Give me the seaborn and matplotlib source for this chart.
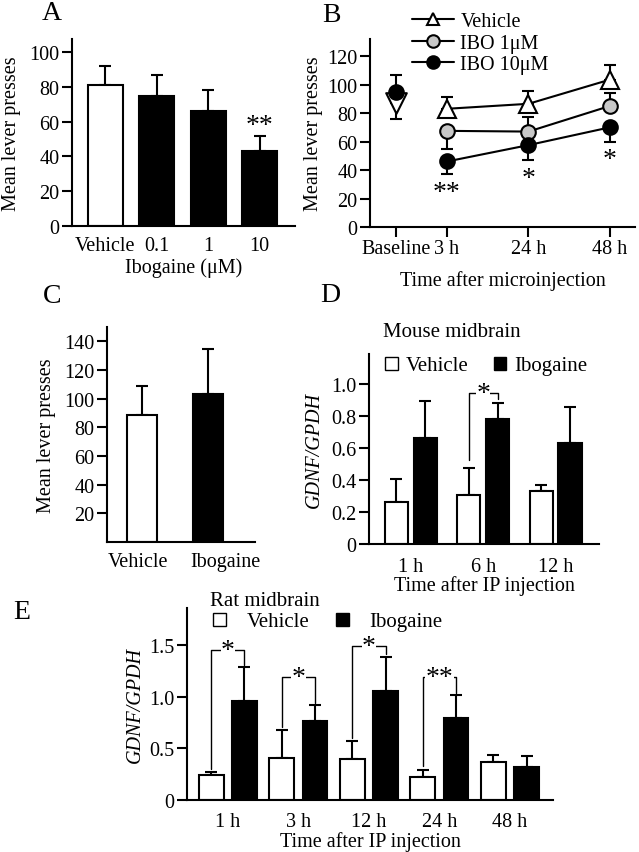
import numpy as np
import pandas as pd
import matplotlib.pyplot as plt
from matplotlib.lines import Line2D
from matplotlib.patches import Patch
import seaborn as sns

# Panel A: lever presses vs ibogaine dose
a_labels = ["Vehicle", "0.1", "1", "10"]
a_means = [81, 75, 66, 43]
a_sem = [11, 12, 12, 9]

# Panel B: lever presses over time after microinjection
b_times = ["Baseline", "3 h", "24 h", "48 h"]
b_vehicle = [87, 83, 86.5, 103.5]
b_vehicle_lo = [11, 0, 0, 0]
b_vehicle_hi = [0, 8.5, 9, 10]
b_ibo1 = [np.nan, 67.5, 67, 85]
b_ibo1_lo = [0, 12.5, 0, 0]
b_ibo1_hi = [0, 0, 10.5, 9]
b_ibo10 = [95, 46, 57.5, 70]
b_ibo10_lo = [0, 9, 10.5, 10]
b_ibo10_hi = [11.5, 0, 0, 0]
b_stars = ["", "**", "*", "*"]

# Panel C
c_labels = ["Vehicle", "Ibogaine"]
c_means = [88.5, 103.5]
c_sem = [20.5, 31]

# Panel D: mouse midbrain
d_times = ["1 h", "6 h", "12 h"]
d_vehicle = [0.26, 0.31, 0.335]
d_vehicle_sem = [0.145, 0.165, 0.035]
d_ibogaine = [0.665, 0.785, 0.635]
d_ibogaine_sem = [0.23, 0.095, 0.22]
d_stars = ["", "*", ""]

# Panel E: rat midbrain
e_times = ["1 h", "3 h", "12 h", "24 h", "48 h"]
e_vehicle = [0.24, 0.41, 0.40, 0.22, 0.37]
e_vehicle_sem = [0.03, 0.27, 0.17, 0.075, 0.065]
e_ibogaine = [0.955, 0.765, 1.06, 0.79, 0.32]
e_ibogaine_sem = [0.335, 0.155, 0.33, 0.23, 0.105]
e_stars = ["*", "*", "*", "**", ""]
e_bracket_top = [1.45, 1.19, 1.49, 1.19, np.nan]

sns.set_style("ticks")
plt.rcParams['font.family'] = ['Liberation Serif', 'DejaVu Serif']
plt.rcParams.update({
    'font.size': 14.5,
    'axes.linewidth': 1.5,
    'axes.edgecolor': 'black',
    'axes.labelcolor': 'black',
    'text.color': 'black',
    'xtick.color': 'black',
    'ytick.color': 'black',
    'xtick.major.width': 1.5,
    'ytick.major.width': 1.5,
    'xtick.major.size': 7,
    'ytick.major.size': 7,
    'xtick.major.pad': 2,
    'ytick.major.pad': 2,
    'axes.labelsize': 14.5,
    'xtick.labelsize': 14.5,
    'ytick.labelsize': 14.5,
})

W, H = 639, 853
fig = plt.figure(figsize=(W / 100, H / 100), dpi=100)


def px_axes(x0, y0, x1, y1):
    return fig.add_axes([x0 / W, 1 - y1 / H, (x1 - x0) / W, (y1 - y0) / H])


err_kw = dict(fmt='none', ecolor='black', elinewidth=1.5, capsize=4, capthick=1.5)
bar_kw = dict(edgecolor='black', linewidth=1.5, errorbar=None)

# ---- A ----
ax = px_axes(72, 40, 295, 227)
df_a = pd.DataFrame({"dose": a_labels, "presses": a_means})
sns.barplot(data=df_a, x="dose", y="presses", hue="dose",
            palette=["white", "black", "black", "black"], legend=False,
            width=0.68, ax=ax, zorder=2, **bar_kw)
ax.errorbar(np.arange(4), a_means, yerr=[np.zeros(4), a_sem], zorder=1, **err_kw)
ax.text(3, a_means[3] + a_sem[3] - 1.5, "**", ha='center', va='bottom', fontsize=20)
ax.set_xlim(-0.65, 3.69)
ax.set_ylim(0, 107.5)
ax.set_yticks(range(0, 101, 20))
ax.tick_params(axis='x', length=0, pad=7)
ax.set_xlabel("Ibogaine (μM)", labelpad=2)
ax.set_ylabel("Mean lever presses", labelpad=6)
sns.despine(ax=ax)

# ---- B ----
ax = px_axes(370, 40, 635, 228)
b_x = np.array([0, 1, 2.6, 4.2])
series = [
    ("Vehicle", b_vehicle, b_vehicle_lo, b_vehicle_hi, '^', 'white', 13),
    ("IBO 1μM", b_ibo1, b_ibo1_lo, b_ibo1_hi, 'o', '#c8c8c8', 10.5),
    ("IBO 10μM", b_ibo10, b_ibo10_lo, b_ibo10_hi, 'o', 'black', 10.5),
]
handles = []
for name, vals, lo, hi, mk, fc, ms in series:
    vals = np.array(vals, dtype=float)
    ok = ~np.isnan(vals)
    ax.errorbar(b_x[ok], vals[ok], yerr=[np.array(lo)[ok], np.array(hi)[ok]],
                zorder=1, **err_kw)
    sns.lineplot(x=b_x[1:], y=vals[1:], marker=mk, color='black', lw=1.5,
                 markersize=ms, markerfacecolor=fc, markeredgecolor='black',
                 markeredgewidth=1.5, ax=ax, zorder=3)
    handles.append(Line2D([], [], color='black', lw=1.5, marker=mk, ms=9,
                          mfc=fc, mec='black', mew=1.5))
# baseline points
sns.scatterplot(x=b_x[:1], y=b_vehicle[:1], marker='v', s=220, color='white',
                edgecolor='black', linewidth=1.5, ax=ax, zorder=3)
sns.scatterplot(x=b_x[:1], y=b_ibo10[:1], marker='o', s=110, color='black',
                edgecolor='black', linewidth=1.5, ax=ax, zorder=4)
for xi, v, lo, s in zip(b_x, b_ibo10, b_ibo10_lo, b_stars):
    if s:
        ax.text(xi, v - lo - 4, s, ha='center', va='top', fontsize=20)
ax.set_xticks(b_x)
ax.set_xticklabels(b_times)
ax.set_xlim(-0.51, 4.69)
ax.set_ylim(0, 132)
ax.set_yticks(range(0, 121, 20))
ax.set_xlabel("Time after microinjection", labelpad=8)
ax.set_ylabel("Mean lever presses", labelpad=3)
sns.despine(ax=ax)
ax.legend(handles, [s[0] for s in series], loc='upper left', frameon=False,
          bbox_to_anchor=(412 / W, 1 - 13 / H), bbox_transform=fig.transFigure,
          handlelength=2.1, handletextpad=0.3, labelspacing=0.12,
          borderpad=0, borderaxespad=0, fontsize=14.5)

# ---- C ----
ax = px_axes(107, 328, 255, 543)
df_c = pd.DataFrame({"group": c_labels, "presses": c_means})
sns.barplot(data=df_c, x="group", y="presses", hue="group",
            palette=["white", "black"], legend=False, width=0.45,
            ax=ax, zorder=2, **bar_kw)
ax.errorbar(np.arange(2), c_means, yerr=[np.zeros(2), c_sem], zorder=1, **err_kw)
ax.set_xlim(-0.53, 1.71)
ax.set_ylim(0, 150)
ax.set_yticks(range(20, 141, 20))
# labels in the original sit a little off the bar centres
ax.set_xticks([-0.06, 1.26])
ax.set_xticklabels(c_labels)
ax.tick_params(axis='x', length=0, pad=7)
ax.set_xlabel("")
ax.set_ylabel("Mean lever presses", labelpad=6)
sns.despine(ax=ax)


def grouped(ax, times, veh, veh_sem, ibo, ibo_sem, width, gap):
    df = pd.DataFrame({"time": times * 2,
                       "group": ["Vehicle"] * len(times) + ["Ibogaine"] * len(times),
                       "ratio": veh + ibo})
    sns.barplot(data=df, x="time", y="ratio", hue="group",
                palette={"Vehicle": "white", "Ibogaine": "black"},
                width=width, gap=gap, legend=False, ax=ax, zorder=2, **bar_kw)
    idx = np.arange(len(times))
    off = width / 4
    ax.errorbar(idx - off, veh, yerr=[np.zeros(len(idx)), veh_sem], zorder=1, **err_kw)
    ax.errorbar(idx + off, ibo, yerr=[np.zeros(len(idx)), ibo_sem], zorder=1, **err_kw)
    return off


def bracket(ax, x, off, y_left, y_top, y_right, star):
    ax.plot([x - off, x - off, x + off, x + off], [y_left, y_top, y_top, y_right],
            color='black', lw=1, zorder=3)
    ax.text(x, y_top, star, ha='center', va='center', fontsize=20, zorder=4,
            bbox=dict(facecolor='white', edgecolor='none', pad=0.3))


gd_legend = [Patch(facecolor='white', edgecolor='black', lw=1),
             Patch(facecolor='black', edgecolor='black', lw=1)]

# ---- D ----
ax = px_axes(369, 355, 599, 545)
off = grouped(ax, d_times, d_vehicle, d_vehicle_sem, d_ibogaine, d_ibogaine_sem, 0.8, 0.2)
for i, s in enumerate(d_stars):
    if s:
        bracket(ax, i, off, d_vehicle[i] + d_vehicle_sem[i] + 0.05, 0.943,
                d_ibogaine[i] + d_ibogaine_sem[i] + 0.03, s)
ax.set_xlim(-0.58, 2.6)
ax.set_ylim(0, 1.19)
ax.set_yticks([0, 0.2, 0.4, 0.6, 0.8, 1.0])
ax.set_yticklabels(["0", "0.2", "0.4", "0.6", "0.8", "1.0"])
ax.tick_params(axis='x', length=0, pad=9)
ax.set_xlabel("Time after IP injection", labelpad=0)
ax.set_ylabel("GDNF/GPDH", fontstyle='italic', labelpad=5)
sns.despine(ax=ax)
fig.text(383 / W, 1 - 333 / H, "Mouse midbrain", ha='left', va='center', fontsize=15)
ax.legend(gd_legend, ["Vehicle", "Ibogaine"], ncol=2, frameon=False,
          loc='center left', bbox_to_anchor=(385 / W, 1 - 367 / H),
          bbox_transform=fig.transFigure, handlelength=0.6, handleheight=0.6,
          handletextpad=0.4, columnspacing=1.2, borderpad=0, borderaxespad=0,
          fontsize=15)

# ---- E ----
ax = px_axes(187, 609, 553, 801)
off = grouped(ax, e_times, e_vehicle, e_vehicle_sem, e_ibogaine, e_ibogaine_sem, 0.94, 0.25)
for i, s in enumerate(e_stars):
    if s:
        bracket(ax, i, off, e_vehicle[i] + e_vehicle_sem[i] + 0.03, e_bracket_top[i],
                e_ibogaine[i] + e_ibogaine_sem[i] + 0.02, s)
ax.set_xlim(-0.58, 4.61)
ax.set_ylim(0, 1.86)
ax.set_yticks([0, 0.5, 1.0, 1.5])
ax.set_yticklabels(["0", "0.5", "1.0", "1.5"])
ax.tick_params(axis='x', length=0, pad=9)
ax.set_xlabel("Time after IP injection", labelpad=0)
ax.set_ylabel("GDNF/GPDH", fontstyle='italic', labelpad=3)
sns.despine(ax=ax)
fig.text(210 / W, 1 - 602 / H, "Rat midbrain", ha='left', va='center', fontsize=15)
ax.legend(gd_legend, ["Vehicle", "Ibogaine"], ncol=2, frameon=False,
          loc='center left', bbox_to_anchor=(213 / W, 1 - 623 / H),
          bbox_transform=fig.transFigure, handlelength=0.6, handleheight=0.6,
          handletextpad=1.0, columnspacing=1.3, borderpad=0, borderaxespad=0,
          fontsize=15)

# panel letters
for letter, (x, y) in {"A": (52, 14), "B": (331, 15), "C": (52, 297),
                       "D": (330, 295), "E": (22, 613)}.items():
    fig.text(x / W, 1 - y / H, letter, ha='center', va='center', fontsize=20)

fig.savefig("out.png", dpi=100)
